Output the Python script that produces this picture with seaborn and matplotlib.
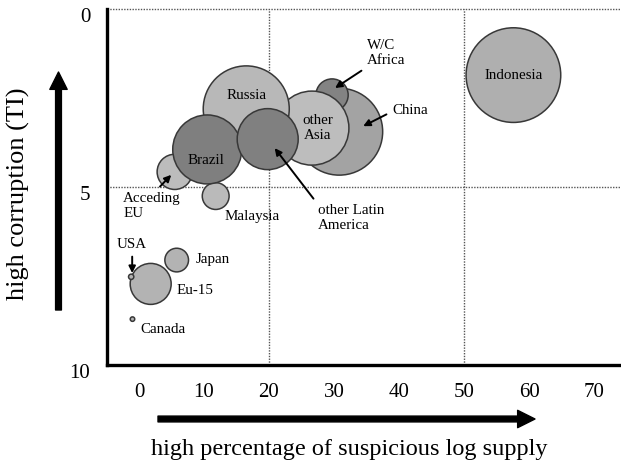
import matplotlib
matplotlib.use("Agg")
import matplotlib.pyplot as plt
from matplotlib.patches import FancyArrowPatch
from matplotlib.transforms import offset_copy, ScaledTranslation
import seaborn as sns
import pandas as pd

# ---- data ----
regions = ["Indonesia", "China", "W/C Africa", "other Asia", "Russia", "Acceding EU",
           "Malaysia", "Brazil", "other Latin America", "Japan", "Eu-15", "USA", "Canada"]
suspicious_pct = [57.6, 30.8, 29.7, 26.6, 16.5, 5.5, 11.8, 10.5, 19.8, 5.8, 1.8, -1.2, -1.0]
corruption_ti = [1.85, 3.44, 2.41, 3.34, 2.80, 4.57, 5.25, 3.94, 3.65, 7.05, 7.72, 7.52, 8.71]
log_volume = [224, 189, 26, 137, 185, 31, 18, 119, 93, 14, 42, 0.7, 0.5]
xticks = [0, 10, 20, 30, 40, 50, 60, 70]
yticks = [0, 5, 10]

df = pd.DataFrame({"region": regions, "x": suspicious_pct, "y": corruption_ti, "vol": log_volume})

light = "#b3b3b3"
dark = "#838383"
palette = {
    "Indonesia": "#afafaf", "China": "#a3a3a3", "W/C Africa": dark, "other Asia": "#bdbdbd",
    "Russia": "#b8b8b8", "Acceding EU": "#bcbcbc", "Malaysia": "#bababa", "Brazil": "#7f7f7f",
    "other Latin America": "#808080", "Japan": light, "Eu-15": light, "USA": light, "Canada": light,
}

sns.set_style("white")
plt.rcParams["font.family"] = ["Liberation Serif", "DejaVu Serif"]
plt.rcParams["text.color"] = "black"
plt.rcParams["axes.labelcolor"] = "black"

W, H = 621, 466
fig = plt.figure(figsize=(W / 100, H / 100), dpi=100)
ax = fig.add_axes([107 / W, 1 - 365 / H, (W - 107) / W, (365 - 9.3) / H])

vmax = max(log_volume)
k = 2.0736 * 10  # pt^2 per volume unit
sns.scatterplot(data=df, x="x", y="y", hue="region", palette=palette, size="vol",
                sizes=(0, k * vmax), size_norm=(0, vmax), edgecolor="#383838",
                linewidth=1.1, alpha=1, legend=False, ax=ax, zorder=3)

ax.set_xlim(-4.92, 74.15)
ax.set_ylim(10, 0)
ax.set_xticks(xticks)
ax.set_yticks(yticks)
ax.set_xticklabels([str(v) for v in xticks], fontsize=15)
ax.set_yticklabels([str(v) for v in yticks], fontsize=15)
ax.tick_params(axis="both", length=0, colors="black", labelcolor="black")
ax.tick_params(axis="x", pad=13)
ax.tick_params(axis="y", pad=12)
off = ScaledTranslation(0, -6 / 100, fig.dpi_scale_trans)
for lab in ax.get_yticklabels():
    lab.set_transform(lab.get_transform() + off)

for s in ["top", "right"]:
    ax.spines[s].set_visible(False)
for s in ["left", "bottom"]:
    ax.spines[s].set_color("black")
    ax.spines[s].set_linewidth(2.4)

grid_kw = dict(color="#555555", linewidth=1.0, linestyle=(0, (1, 1)), zorder=1, clip_on=False)
ax.axhline(0, **grid_kw)
ax.axhline(5, **grid_kw)
ax.axvline(20, **grid_kw)
ax.axvline(50, **grid_kw)

ax.set_xlabel("high percentage of suspicious log supply", fontsize=17.5)
ax.set_ylabel("high corruption (TI)", fontsize=19)
ax.xaxis.set_label_coords((349 - 107) / (W - 107), -(450 - 365) / (365 - 9.3))
ax.xaxis.label.set_va("center")
ax.yaxis.set_label_coords((18 - 107) / (W - 107), (365 - 194) / (365 - 9.3))
ax.yaxis.label.set_va("center")

pos = {r: (x, y) for r, x, y in zip(regions, suspicious_pct, corruption_ti)}
fs = 10.8

def txt(region, label, dx, dy, ha="center", va="center"):
    x, y = pos[region]
    tr = offset_copy(ax.transData, fig=fig, x=dx, y=dy, units="dots")
    ax.text(x, y, label, transform=tr, ha=ha, va=va, fontsize=fs, zorder=5, color="black",
            multialignment="center" if ha == "center" else "left")

# labels inside bubbles
txt("Indonesia", "Indonesia", 0, 0)
txt("Russia", "Russia", 0, 13)
txt("Brazil", "Brazil", -1, -11)
txt("other Asia", "other\nAsia", 6, 0)
# plain labels
txt("Malaysia", "Malaysia", 36.5, -20)
txt("Japan", "Japan", 19, 1, ha="left")
txt("Eu-15", "Eu-15", 25.5, -7, ha="left")
txt("Canada", "Canada", 7.7, -10, ha="left")

def arr(region, label, tip, toff, ha, relpos):
    x, y = pos[region]
    tr = offset_copy(ax.transData, fig=fig, x=tip[0], y=tip[1], units="dots")
    ax.annotate(label, xy=(x, y), xycoords=tr,
                xytext=(toff[0] - tip[0], toff[1] - tip[1]), textcoords="offset pixels",
                ha=ha, va="center", fontsize=fs, zorder=6, color="black",
                multialignment="left" if ha == "left" else "center",
                arrowprops=dict(arrowstyle="-|>", color="black", lw=1.4,
                                mutation_scale=10, shrinkA=2, shrinkB=0, relpos=relpos))

arr("W/C Africa", "W/C\nAfrica", (3, 7), (35, 42), "left", (0, 0))
arr("China", "China", (24, 5.5), (53, 21.5), "left", (0, 0.4))
arr("other Latin America", "other Latin\nAmerica", (7, -9), (50, -79), "left", (0, 1))
arr("Acceding EU", "Acceding\nEU", (-3.5, -3), (-51.5, -34), "left", (0.55, 1))
arr("USA", "USA", (1, 3.7), (1, 32.7), "center", (0.5, 0))

# big direction arrows
style = "simple,head_length=1.25,head_width=1.25,tail_width=0.42"
fig.add_artist(FancyArrowPatch((58.5 / W, 1 - 310 / H), (58.5 / W, 1 - 72 / H),
                               transform=fig.transFigure, arrowstyle=style,
                               mutation_scale=10, color="black", shrinkA=0, shrinkB=0))
fig.add_artist(FancyArrowPatch((158 / W, 1 - 419 / H), (535 / W, 1 - 419 / H),
                               transform=fig.transFigure, arrowstyle=style,
                               mutation_scale=10, color="black", shrinkA=0, shrinkB=0))

fig.savefig("out.png", dpi=100)
